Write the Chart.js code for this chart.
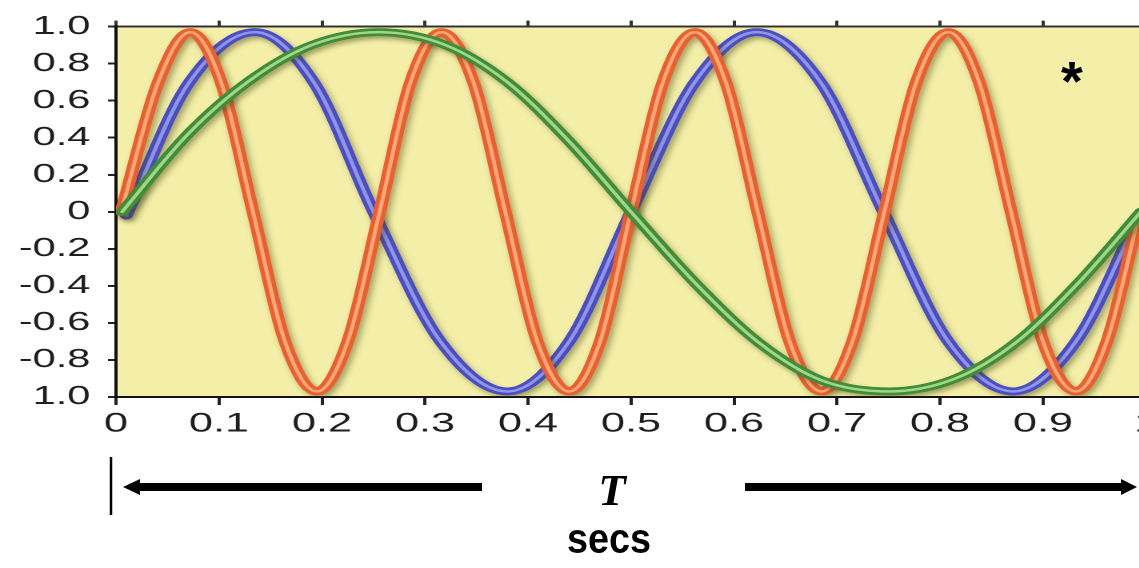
<!DOCTYPE html>
<html>
<head>
<meta charset="utf-8">
<script src="https://cdn.jsdelivr.net/npm/chart.js@4.4.1/dist/chart.umd.min.js"></script>
<style>
  html, body { margin: 0; padding: 0; background: #fff; overflow: hidden; width: 1139px; height: 568px; }
  /* the source picture is stretched sideways, so the chart is too */
  #wrap { position: absolute; left: 0; top: 0; width: 750px; height: 568px; transform: scaleX(1.6); transform-origin: 0 0; }
  #notes { position: absolute; left: 0; top: 0; }
</style>
</head>
<body>
<div id="wrap"><canvas id="chart" width="750" height="568"></canvas></div>

<svg id="notes" width="1139" height="568">
  <text x="1072" y="100" text-anchor="middle" font-family="Liberation Sans, Arial, sans-serif" font-weight="bold" font-size="56">*</text>
  <!-- T span marker and arrows -->
  <line x1="111" y1="457" x2="111" y2="515" stroke="#000" stroke-width="2.5"/>
  <rect x="138" y="483" width="344" height="8" fill="#000"/>
  <polygon points="123,487 140,479 140,495" fill="#000"/>
  <rect x="745" y="483" width="378" height="8" fill="#000"/>
  <polygon points="1137,487 1121,479 1121,495" fill="#000"/>
  <text x="612" y="505" text-anchor="middle" font-family="Liberation Serif, Times New Roman, serif" font-weight="bold" font-style="italic" font-size="45">T</text>
  <text x="567" y="553" textLength="84" lengthAdjust="spacingAndGlyphs" font-family="Liberation Sans, Arial, sans-serif" font-weight="bold" font-size="42">secs</text>
</svg>

<script>
// axis labels as printed (bottom label has no minus sign in the source)
const xTickLabels = ['0', '0.1', '0.2', '0.3', '0.4', '0.5', '0.6', '0.7', '0.8', '0.9', '1'];
const yTickLabels = ['1.0', '-0.8', '-0.6', '-0.4', '-0.2', '0', '0.2', '0.4', '0.6', '0.8', '1.0'];

// red wave (fast, four cycles)
const redX = [0.005, 0.041, 0.072, 0.102, 0.133, 0.164, 0.195, 0.225, 0.256, 0.286, 0.316, 0.347,
              0.378, 0.409, 0.44, 0.47, 0.5, 0.531, 0.562, 0.592, 0.623, 0.654, 0.685, 0.715,
              0.746, 0.777, 0.808, 0.838, 0.869, 0.9, 0.932, 0.962, 0.993];
const redY = [0, 0.70, 0.97, 0.70, 0, -0.70, -0.97, -0.70, 0, 0.70, 0.97, 0.70,
              0, -0.70, -0.97, -0.70, 0, 0.70, 0.97, 0.70, 0, -0.70, -0.97, -0.70,
              0, 0.70, 0.97, 0.70, 0, -0.70, -0.97, -0.70, -0.02];

// blue wave (two cycles)
const blueX = [0.01, 0.07, 0.135, 0.192, 0.25, 0.315, 0.38, 0.44, 0.5,
               0.562, 0.622, 0.684, 0.745, 0.808, 0.871, 0.932, 0.995];
const blueY = [-0.02, 0.69, 0.97, 0.70, 0, -0.70, -0.97, -0.70, 0,
               0.70, 0.97, 0.70, 0, -0.70, -0.97, -0.70, 0];

// green wave (one cycle)
const greenX = [0.006, 0.07, 0.13, 0.19, 0.255, 0.32, 0.38, 0.44, 0.5,
                0.565, 0.625, 0.685, 0.75, 0.815, 0.875, 0.935, 0.995];
const greenY = [0, 0.42, 0.71, 0.90, 0.97, 0.90, 0.70, 0.38, 0,
                -0.40, -0.71, -0.91, -0.97, -0.90, -0.70, -0.38, 0];

function points(xs, ys) {
    return xs.map((x, i) => ({ x: x, y: ys[i] }));
}

// each wave is a thick dark stroke with a thin light stripe on top
function wave(xs, ys, color, width, order, outer) {
    return {
        data: points(xs, ys),
        borderColor: color,
        borderWidth: width,
        pointRadius: 0,
        cubicInterpolationMode: 'monotone',
        borderCapStyle: 'round',
        order: order,
        outer: outer
    };
}

const plotBackground = {
    id: 'plotBackground',
    beforeDraw(chart) {
        const a = chart.chartArea;
        const ctx = chart.ctx;
        ctx.save();
        ctx.fillStyle = '#f3efa8';
        ctx.fillRect(a.left, a.top, a.right - a.left, a.bottom - a.top);
        ctx.restore();
    }
};

const lineShadow = {
    id: 'lineShadow',
    beforeDatasetDraw(chart, args) {
        const ctx = chart.ctx;
        ctx.save();
        if (chart.data.datasets[args.index].outer) {
            ctx.shadowColor = 'rgba(70, 70, 20, 0.45)';
            ctx.shadowBlur = 9;
            ctx.shadowOffsetX = 4;
            ctx.shadowOffsetY = 6;
        }
    },
    afterDatasetDraw(chart) {
        chart.ctx.restore();
    }
};

const fontFamily = 'Liberation Sans, Arial, sans-serif';

new Chart(document.getElementById('chart').getContext('2d'), {
    type: 'line',
    data: {
        datasets: [
            wave(greenX, greenY, '#a3d48c', 2.5, 0, false),
            wave(greenX, greenY, '#3f8d35', 8, 1, true),
            wave(redX, redY, '#f8a878', 2.5, 2, false),
            wave(redX, redY, '#ec5e2e', 8, 3, true),
            wave(blueX, blueY, '#9195e8', 2.5, 4, false),
            wave(blueX, blueY, '#4a4ec2', 8, 5, true)
        ]
    },
    options: {
        responsive: false,
        devicePixelRatio: 2,
        animation: false,
        layout: { padding: { left: 0, right: 33.75, top: 0, bottom: 0 } },
        plugins: { legend: { display: false }, tooltip: { enabled: false } },
        scales: {
            x: {
                type: 'linear',
                position: 'bottom',
                min: 0,
                max: 1,
                afterFit: s => { s.height = 171; },
                border: { color: '#111', width: 2 },
                grid: { drawOnChartArea: false, drawTicks: true, tickLength: 8, color: '#222', lineWidth: 2 },
                ticks: {
                    stepSize: 0.1,
                    autoSkip: false,
                    maxRotation: 0,
                    padding: 3,
                    color: '#1e1e1e',
                    font: { family: fontFamily, size: 27 },
                    callback: v => xTickLabels[Math.round(v * 10)]
                }
            },
            xTop: {
                type: 'linear',
                axis: 'x',
                position: 'top',
                min: 0,
                max: 1,
                afterFit: s => { s.height = 19; },
                border: { color: '#333', width: 2 },
                grid: { drawOnChartArea: false, drawTicks: true, tickLength: 6, color: '#333', lineWidth: 2 },
                ticks: { stepSize: 0.1, display: false }
            },
            y: {
                type: 'linear',
                min: -1,
                max: 1,
                afterFit: s => { s.width = 72.5; },
                border: { color: '#111', width: 2 },
                grid: { drawOnChartArea: false, drawTicks: true, tickLength: 5, color: '#222', lineWidth: 2 },
                ticks: {
                    stepSize: 0.2,
                    padding: 11,
                    color: '#1e1e1e',
                    font: { family: fontFamily, size: 26 },
                    callback: v => yTickLabels[Math.round((v + 1) / 0.2)]
                }
            }
        }
    },
    plugins: [plotBackground, lineShadow]
});
</script>
</body>
</html>
